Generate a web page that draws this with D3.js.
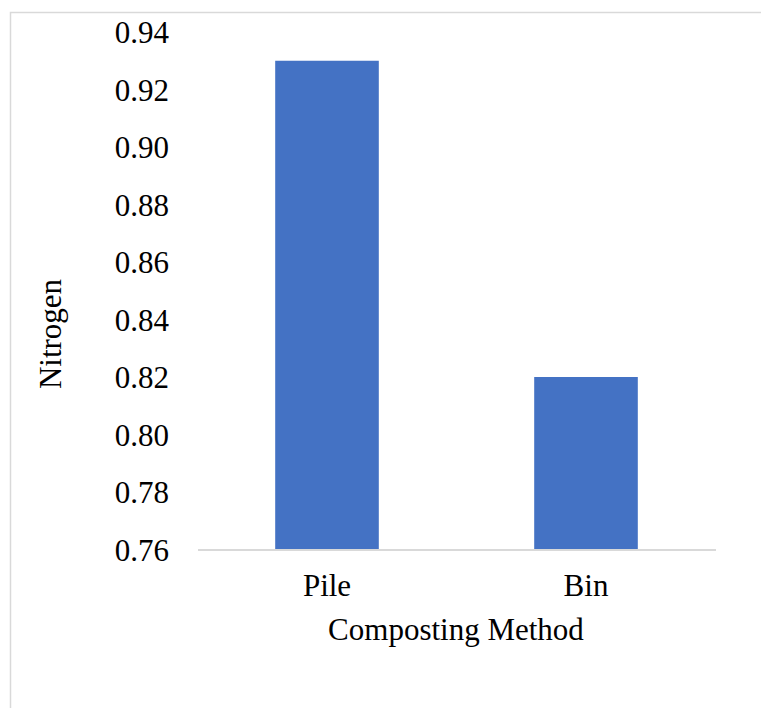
<!DOCTYPE html>
<html>
<head>
<meta charset="utf-8">
<script src="https://cdn.jsdelivr.net/npm/d3@7"></script>
<style>
html,body{margin:0;padding:0;background:#fff;}
svg{display:block;}
svg text{font-family:"Liberation Serif","Times New Roman",Times,serif;}
</style>
</head>
<body>
<script>
const categories = ["Pile", "Bin"];
const nitrogenValues = [0.93, 0.82];
const yTicks = [0.76, 0.78, 0.80, 0.82, 0.84, 0.86, 0.88, 0.90, 0.92, 0.94];
const xTitle = "Composting Method";
const yTitle = "Nitrogen";

const W = 761, H = 708;
const svg = d3.select("body").append("svg").attr("width", W).attr("height", H);
const font = "Liberation Serif, Times New Roman, Times, serif";

// chart border (cropped on right/bottom)
svg.append("rect").attr("x", 10.5).attr("y", 12.5).attr("width", W).attr("height", H)
  .attr("fill", "none").attr("stroke", "#d9d9d9").attr("stroke-width", 1.5);

const x = d3.scaleBand().domain(categories).range([197.5, 715.5]).paddingInner(0.6).paddingOuter(0.3);
const y = d3.scaleLinear().domain([0.76, 0.94]).range([549.5, 32]);

// bars
svg.selectAll("rect.bar").data(categories).join("rect").attr("class", "bar")
  .attr("x", d => x(d)).attr("width", x.bandwidth())
  .attr("y", (d, i) => y(nitrogenValues[i]))
  .attr("height", (d, i) => y(0.76) - y(nitrogenValues[i]))
  .attr("fill", "#4472C4");

// x axis line
const xAxis = d3.axisBottom(x).tickSize(0).tickPadding(0);
const gx = svg.append("g").attr("transform", `translate(0,${y(0.76)})`).call(xAxis)
  .attr("font-family", null);
gx.select(".domain").attr("stroke", "#d9d9d9").attr("stroke-width", 2);
gx.selectAll("text").style("font-family", font).style("font-size", "31px").attr("fill", "#000")
  .attr("dy", null).attr("y", 46);

// y axis labels
const yAxis = d3.axisLeft(y).tickValues(yTicks).tickFormat(d3.format(".2f")).tickSize(0).tickPadding(0);
const gy = svg.append("g").attr("transform", "translate(169,0)").call(yAxis)
  .attr("font-family", null);
gy.select(".domain").remove();
gy.selectAll("text").style("font-family", font).style("font-size", "31px").attr("fill", "#000")
  .attr("dy", "0.35em");

// titles
svg.append("text").attr("x", 456).attr("y", 640).attr("text-anchor", "middle")
  .style("font-family", font).style("font-size", "31px").attr("fill", "#000").text(xTitle);
svg.append("text").attr("transform", "translate(61,334) rotate(-90)").attr("text-anchor", "middle")
  .style("font-family", font).style("font-size", "31px").attr("fill", "#000").text(yTitle);
</script>
</body>
</html>
